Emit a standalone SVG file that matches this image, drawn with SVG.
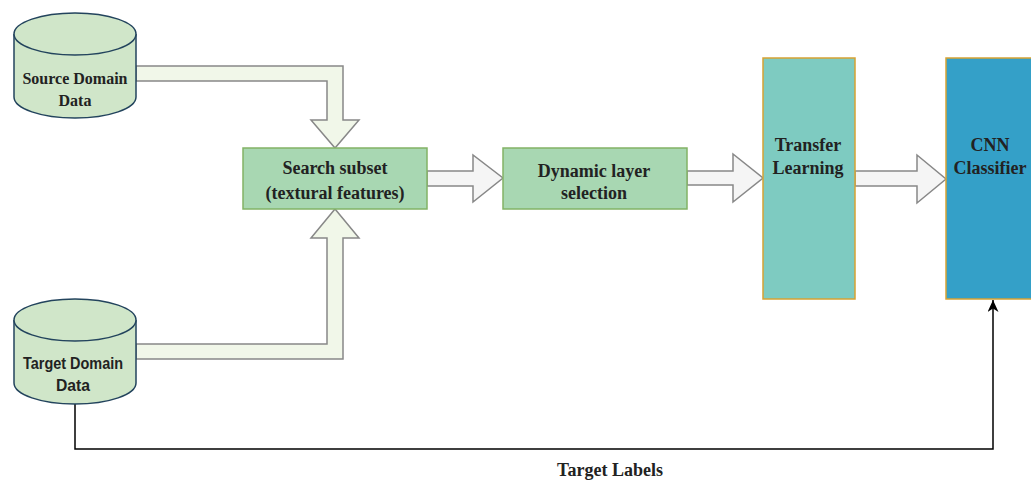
<svg xmlns="http://www.w3.org/2000/svg" width="1031" height="480" viewBox="0 0 1031 480">
<style>
.cyl{fill:#d0e6c9;stroke:#23445d;stroke-width:1.5}
.fat1{fill:#f1f7e9;stroke:#888;stroke-width:1.5}
.fat2{fill:#f5f5f5;stroke:#888;stroke-width:1.5}
.gbox{fill:#a8d7b2;stroke:#82b366;stroke-width:1.5}
.ser{font-family:"Liberation Serif","Times New Roman",serif;font-weight:bold;font-size:16px;fill:#222;text-anchor:middle}
.big{font-size:18px}
.sans{font-family:"Liberation Sans",Arial,sans-serif;font-weight:bold;font-size:16px;fill:#222;text-anchor:middle}
</style>
<defs>
<marker id="ah" markerWidth="12" markerHeight="11" refX="12" refY="5.5" orient="auto" markerUnits="userSpaceOnUse" viewBox="0 0 12 11">
<path d="M0,0 L12,5.5 L0,11 L3.5,5.5 Z" fill="#000"/>
</marker>
</defs>
<rect width="1031" height="480" fill="#fff"/>
<g id="connectors">
<path class="fat1" d="M136,66 L343,66 L343,120 L359,120 L335,148 L311,120 L327,120 L327,81 L136,81 Z"/>
<path class="fat1" d="M136,359 L343,359 L343,238 L359,238 L335,209 L311,238 L327,238 L327,344 L136,344 Z"/>
<path class="fat2" d="M427,171 L473,171 L473,155 L503,178 L473,202 L473,186 L427,186 Z"/>
<path class="fat2" d="M687,171 L733,171 L733,154 L763,178 L733,202 L733,185 L687,185 Z"/>
<path class="fat2" d="M855,171 L917,171 L917,155 L946,179 L917,203 L917,186 L855,186 Z"/>
<path d="M75,404 L75,449 L993,449 L993,300" fill="none" stroke="#000" stroke-width="1.5" marker-end="url(#ah)"/>
<text class="ser big" x="610" y="476">Target Labels</text>
</g>
<g id="source">
<path class="cyl" d="M14,34 A61,21 0 0 1 136,34 L136,97 A61,21 0 0 1 14,97 Z"/>
<path class="cyl" fill="none" d="M14,34 A61,21 0 0 0 136,34"/>
<text class="ser" x="75" y="84">Source Domain</text>
<text class="ser" x="75" y="106">Data</text>
</g>
<g id="target">
<path class="cyl" d="M14,320 A61,21 0 0 1 136,320 L136,383 A61,21 0 0 1 14,383 Z"/>
<path class="cyl" fill="none" d="M14,320 A61,21 0 0 0 136,320"/>
<text class="sans" x="73" y="369" textLength="100" lengthAdjust="spacingAndGlyphs">Target Domain</text>
<text class="sans" x="73" y="391" textLength="34" lengthAdjust="spacingAndGlyphs">Data</text>
</g>
<g id="search">
<rect class="gbox" x="243" y="148" width="184" height="61"/>
<text class="ser big" x="335" y="174">Search subset</text>
<text class="ser big" x="335" y="199">(textural features)</text>
</g>
<g id="dynamic">
<rect class="gbox" x="503" y="148" width="184" height="61"/>
<text class="ser big" x="594" y="177">Dynamic layer</text>
<text class="ser big" x="594" y="199">selection</text>
</g>
<g id="transfer">
<rect x="763" y="58" width="92" height="241" fill="#7ecbc1" stroke="#d6a233" stroke-width="1.5"/>
<text class="ser big" x="808" y="151">Transfer</text>
<text class="ser big" x="808" y="174">Learning</text>
</g>
<g id="cnn">
<rect x="946" y="58" width="100" height="241" fill="#34a0c8" stroke="#d6a233" stroke-width="1.5"/>
<text class="ser big" x="990" y="151">CNN</text>
<text class="ser big" x="990" y="174">Classifier</text>
</g>
</svg>
